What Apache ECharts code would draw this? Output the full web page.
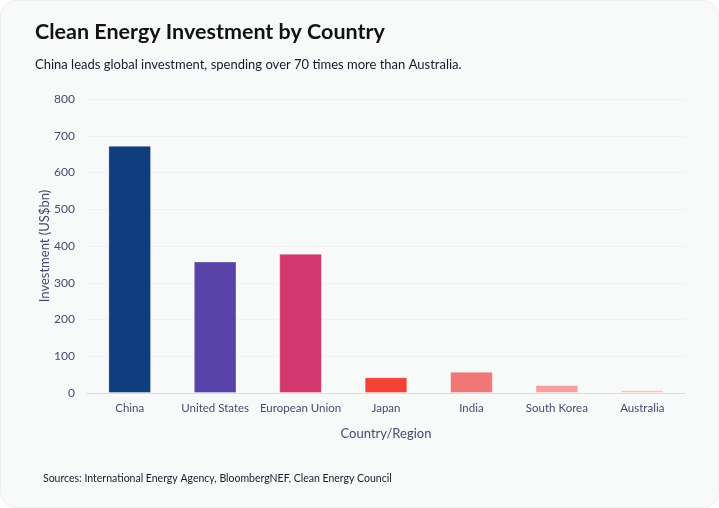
<!DOCTYPE html>
<html><head><meta charset="utf-8">
<script src="https://cdn.jsdelivr.net/npm/echarts@6/dist/echarts.min.js"></script>
<style>
html,body{margin:0;padding:0;background:#ffffff;}
#card{position:absolute;left:0;top:0;width:717px;height:506px;background:#f8fafa;border:1px solid #eef0f0;border-radius:16px;overflow:hidden;}
#chart{width:717px;height:506px;}
</style></head>
<body>
<div id="card"><div id="chart"></div></div>
<script>
const categories = ["China","United States","European Union","Japan","India","South Korea","Australia"];
const investment = [673, 358, 379, 43, 58, 22, 8];
const barColors = ["#0f3d7e","#5843a9","#d2386e","#f44336","#ef7877","#f4a19d","#f7c5bc"];

const chart = echarts.init(document.getElementById('chart'), null, {renderer:'canvas'});
const font = 'Lato, "Noto Sans", sans-serif';
chart.setOption({
  backgroundColor: 'transparent',
  textStyle: {fontFamily: font},
  title: [
    {text: 'Clean Energy Investment by Country', left: 29, top: 15,
     textStyle: {fontFamily: font, fontSize: 21.5, fontWeight: 'bold', color: '#111111'},
     subtext: 'China leads global investment, spending over 70 times more than Australia.',
     itemGap: 15,
     subtextStyle: {fontFamily: font, fontSize: 13, color: '#1a1a2a'}},
    {text: 'Sources: International Energy Agency, BloombergNEF, Clean Energy Council', left: 37, top: 467,
     textStyle: {fontFamily: font, fontSize: 10.5, fontWeight: 'normal', color: '#1a1a2a'}}
  ],
  grid: {left: 86, right: 33, top: 98, bottom: 114, containLabel: false},
  xAxis: {
    type: 'category', data: categories,
    name: 'Country/Region', nameLocation: 'middle', nameGap: 34,
    nameTextStyle: {fontFamily: font, fontSize: 13, color: '#4a4870'},
    axisLine: {lineStyle: {color: '#dcdde0'}},
    axisTick: {show: false},
    axisLabel: {fontFamily: font, fontSize: 11.5, color: '#4a4870', margin: 9, interval: 0}
  },
  yAxis: {
    type: 'value', min: 0, max: 800, interval: 100,
    name: 'Investment (US$bn)', nameLocation: 'middle', nameGap: 36, nameRotate: 90,
    nameMoveOverlap: false,
    nameTextStyle: {fontFamily: font, fontSize: 13, color: '#4a4870'},
    axisLine: {show: false}, axisTick: {show: false},
    axisLabel: {fontFamily: font, fontSize: 12, color: '#4a4870', margin: 12},
    splitLine: {show: true, lineStyle: {color: '#f0f2f3', width: 1}}
  },
  series: [{
    type: 'bar', barWidth: '50%',
    data: investment.map((v, i) => ({value: v, itemStyle: {color: barColors[i]}})),
    itemStyle: {borderColor: 'rgba(255,255,255,0.35)', borderWidth: 1}
  }]
});
</script>
</body></html>
